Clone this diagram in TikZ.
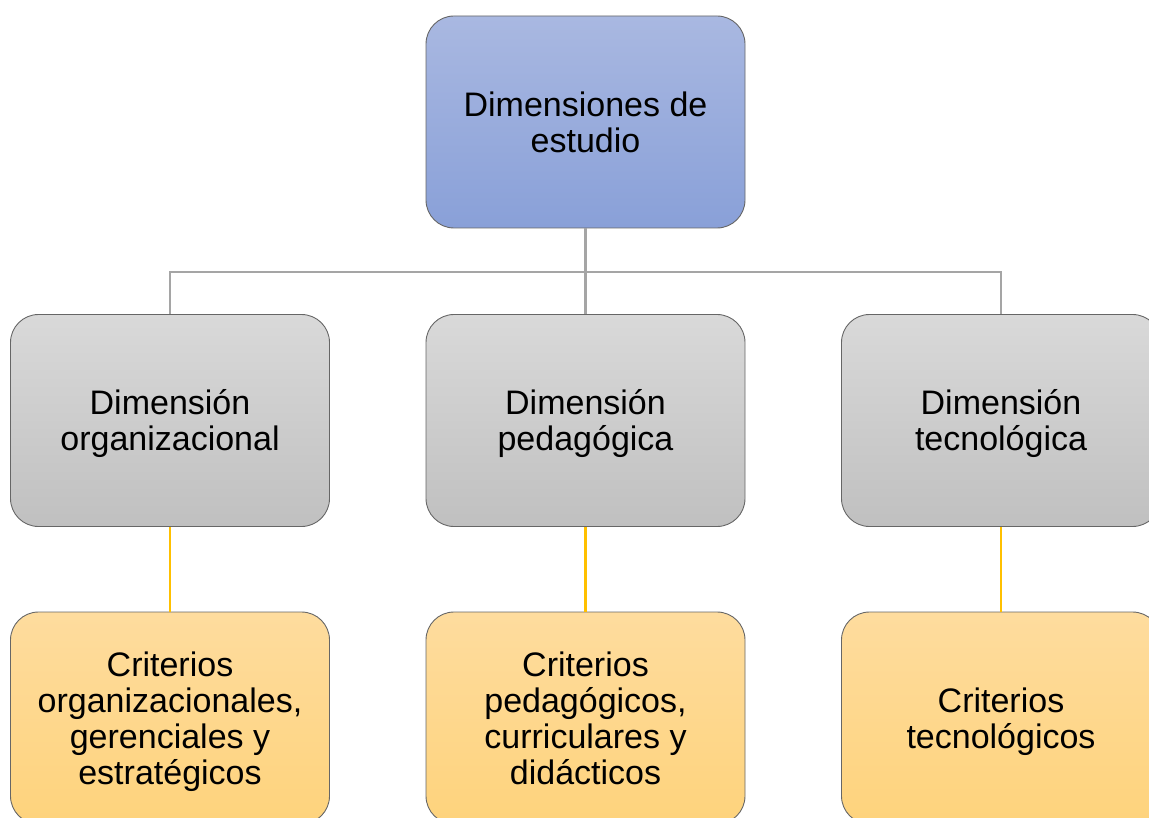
\documentclass[tikz,border=0pt]{standalone}
\usepackage{fontspec}
\setmainfont{Liberation Sans}
\newcommand{\lowtext}[1]{\raisebox{-5pt}[\height][\depth]{\begin{tabular}{@{}c@{}}#1\end{tabular}}}
\begin{document}
\begin{tikzpicture}[x=1pt,y=-1pt,
  box/.style={draw=black!60, line width=0.9pt, rounded corners=28pt, minimum width=319pt, minimum height=212pt,
    align=center, inner sep=2pt, font=\fontsize{34}{36}\selectfont},
  bluebox/.style={box, top color=blue1, bottom color=blue2},
  graybox/.style={box, top color=gray1, bottom color=gray2},
  yellowbox/.style={box, top color=yel1, bottom color=yel2},
  gline/.style={draw=conngray, line width=2.6pt},
  yline/.style={draw=connyel, line width=2.2pt}]
\definecolor{blue1}{HTML}{A9B8E1}
\definecolor{blue2}{HTML}{89A0D8}
\definecolor{gray1}{HTML}{D9D9D9}
\definecolor{gray2}{HTML}{C0C0C0}
\definecolor{yel1}{HTML}{FEDC9E}
\definecolor{yel2}{HTML}{FED37C}
\definecolor{conngray}{HTML}{A5A5A5}
\definecolor{connyel}{HTML}{FFC000}
\useasboundingbox (0,0) rectangle (1149,818);
\clip (0,0) rectangle (1149,818);
\node[bluebox] (top) at (585.5,122) {\lowtext{Dimensiones de\\estudio}};
\node[graybox] (m1) at (170,420.5) {\lowtext{Dimensión\\organizacional}};
\node[graybox] (m2) at (585.5,420.5) {\lowtext{Dimensión\\pedagógica}};
\node[graybox] (m3) at (1001,420.5) {\lowtext{Dimensión\\tecnológica}};
\node[yellowbox] (b1) at (170,718) {\lowtext{Criterios\\organizacionales,\\gerenciales y\\estratégicos}};
\node[yellowbox] (b2) at (585.5,718) {\lowtext{Criterios\\pedagógicos,\\curriculares y\\didácticos}};
\node[yellowbox] (b3) at (1001,718) {\lowtext{Criterios\\tecnológicos}};
\coordinate (j) at (585.5,272);
\draw[gline] (top.south) -- (j);
\draw[gline] (j) -| (m1.north);
\draw[gline] (j) -| (m3.north);
\draw[gline] (j) -- (m2.north);
\draw[yline] (m1.south) -- (b1.north);
\draw[yline] (m2.south) -- (b2.north);
\draw[yline] (m3.south) -- (b3.north);
\end{tikzpicture}
\end{document}
